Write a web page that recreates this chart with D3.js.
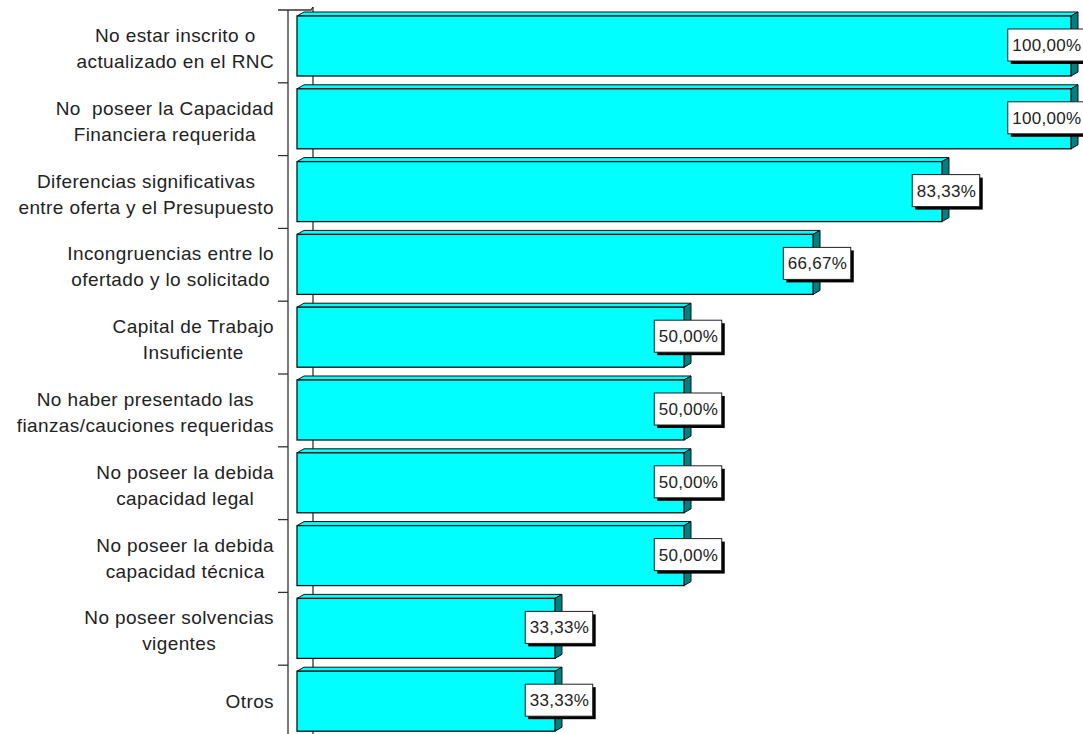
<!DOCTYPE html>
<html><head><meta charset="utf-8">
<script src="https://cdn.jsdelivr.net/npm/d3@7"></script>
<style>
html,body{margin:0;padding:0;background:#fff;}
svg{display:block;}
text{font-family:"Liberation Sans",Arial,sans-serif;fill:#222;}
</style></head>
<body>
<svg id="chart" width="1083" height="734"></svg>
<script>
const categories = [
  "No estar inscrito o\nactualizado en el RNC",
  "No  poseer la Capacidad\nFinanciera requerida",
  "Diferencias significativas\nentre oferta y el Presupuesto",
  "Incongruencias entre lo\nofertado y lo solicitado",
  "Capital de Trabajo\nInsuficiente",
  "No haber presentado las\nfianzas/cauciones requeridas",
  "No poseer la debida\ncapacidad legal",
  "No poseer la debida\ncapacidad técnica",
  "No poseer solvencias\nvigentes",
  "Otros"
];
const values = [1.0, 1.0, 0.8333, 0.6667, 0.5, 0.5, 0.5, 0.5, 0.3333, 0.3333];
const valueLabels = ["100,00%","100,00%","83,33%","66,67%","50,00%","50,00%","50,00%","50,00%","33,33%","33,33%"];

const svg = d3.select("#chart");
const W = 1083, H = 734;

const x = d3.scaleLinear().domain([0, 1]).range([297, 1071]);
const y = d3.scaleBand().domain(categories).range([10, 738]).padding(0);

const axisX = 288, backX = 313;
const depthX = 7, depthY = -4;
const barOff = 6, barH = 60;

const g = svg.append("g");
g.append("line").attr("x1", backX).attr("x2", backX).attr("y1", 7).attr("y2", H)
  .attr("stroke", "#333").attr("stroke-width", 1.3);
g.append("path").attr("d", `M278,${y.range()[0]} H${backX-2} L${backX},7`)
  .attr("fill", "none").attr("stroke", "#333").attr("stroke-width", 1.3);

g.append("line").attr("x1", axisX).attr("x2", axisX).attr("y1", y.range()[0]).attr("y2", H)
  .attr("stroke", "#333").attr("stroke-width", 1.3);
g.selectAll("line.tick").data(categories.slice(1)).join("line").attr("class", "tick")
  .attr("x1", 278).attr("x2", axisX).attr("y1", d => y(d)).attr("y2", d => y(d))
  .attr("stroke", "#333").attr("stroke-width", 1.3);

const bars = svg.append("g").selectAll("g").data(categories).join("g");
bars.each(function(c, i) {
  const gg = d3.select(this);
  const x0 = x(0), x1 = x(values[i]);
  const t = y(c) + barOff, b = t + barH;
  gg.append("path")
    .attr("d", `M${x0},${t} L${x0+depthX},${t+depthY} L${x1+depthX},${t+depthY} L${x1},${t} Z`)
    .attr("fill", "#00ffff").attr("stroke", "#111").attr("stroke-width", 1).attr("stroke-linejoin", "round");
  gg.append("path")
    .attr("d", `M${x1},${t} L${x1+depthX},${t+depthY} L${x1+depthX},${b+depthY} L${x1},${b} Z`)
    .attr("fill", "#008080").attr("stroke", "#111").attr("stroke-width", 1);
  gg.append("rect").attr("x", x0).attr("y", t).attr("width", x1 - x0).attr("height", barH)
    .attr("fill", "#00ffff").attr("stroke", "#111").attr("stroke-width", 1.3);
});

const lab = svg.append("g");
categories.forEach((c, i) => {
  const lines = c.split("\n");
  const t = lab.append("text").attr("font-size", 19).style("letter-spacing", "0.4px")
    .style("white-space", "pre").attr("text-anchor", "middle");
  const cy = y(c) + y.bandwidth() / 2 + (lines.length > 1 ? 2 : 0);
  const lh = 26;
  lines.forEach((ln, j) => {
    t.append("tspan").attr("x", 0)
      .attr("y", cy + (j - (lines.length - 1) / 2) * lh + 6.5).text(ln);
  });
  const bb = t.node().getBBox();
  const right = 274;
  t.attr("transform", `translate(${right - bb.width / 2},0)`);
});

const vl = svg.append("g");
categories.forEach((c, i) => {
  const cy = y(c) + barOff + barH / 2 - 1;
  const gg = vl.append("g");
  const txt = gg.append("text").attr("font-size", 17).style("letter-spacing", "0.3px")
    .attr("text-anchor", "middle").attr("y", cy + 6).text(valueLabels[i]);
  const tw = txt.node().getComputedTextLength();
  const bw = tw + 8, bh = 32;
  let cx = x(values[i]) + 4;
  let left = Math.min(cx - bw / 2, 1085 - bw);
  txt.attr("x", left + bw / 2 + 0.5);
  gg.insert("rect", "text").attr("x", left + 3).attr("y", cy - bh / 2 + 3).attr("width", bw).attr("height", bh)
    .attr("fill", "#000");
  gg.insert("rect", "text").attr("x", left).attr("y", cy - bh / 2).attr("width", bw).attr("height", bh)
    .attr("fill", "#fff").attr("stroke", "#222").attr("stroke-width", 1);
});
</script>
</body></html>
